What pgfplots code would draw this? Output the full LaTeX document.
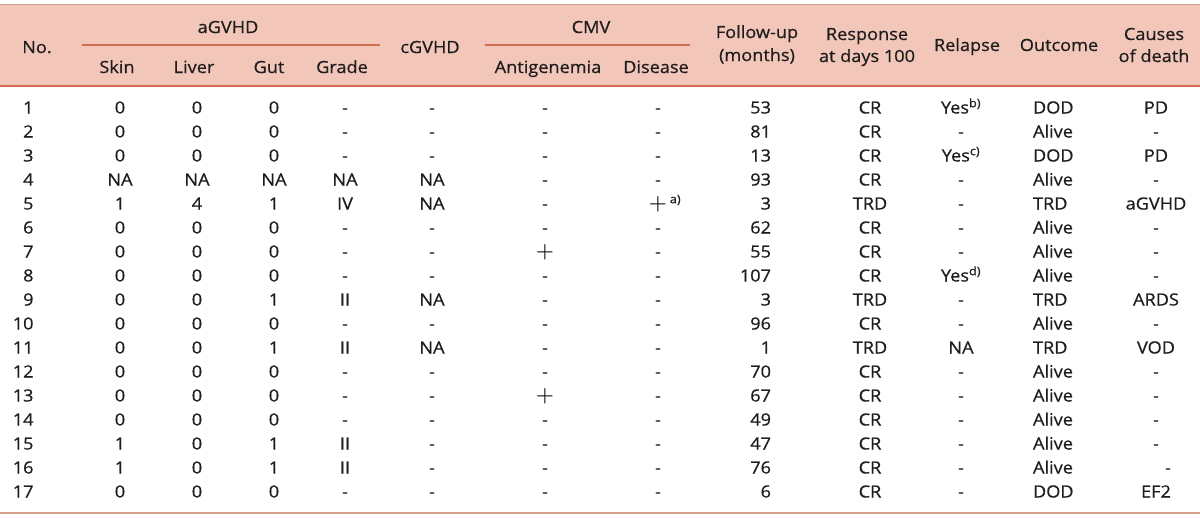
\documentclass[border=0pt]{standalone}
\usepackage{fontspec}
\setmainfont{Open Sans}[FakeStretch=1.08, FakeBold=0.6]
\usepackage{pgfplots}
\usepackage{pgfplotstable}
\pgfplotsset{compat=1.18}
\definecolor{hdr}{RGB}{242,199,185}
\definecolor{rule}{RGB}{210,108,82}
\definecolor{brd}{RGB}{214,160,140}
\definecolor{txt}{RGB}{30,28,28}
\newcommand\fn[1]{\textsuperscript{#1}}
\newcommand\pl{{\fontsize{20}{20}\selectfont$\boldsymbol{+}$}}
\usepackage{amsmath}
\newcommand\tf{\fontsize{16.8}{20}\selectfont}
\pgfplotstableread{
row Skin Liver Gut Grade cG Ant Dis FU Resp Rel Out Cause
1 0 0 0 - - - - 53 CR {Yes\fn{b)}} DOD PD
2 0 0 0 - - - - 81 CR - Alive -
3 0 0 0 - - - - 13 CR {Yes\fn{c)}} DOD PD
4 NA NA NA NA NA - - 93 CR - Alive -
5 1 4 1 IV NA - {\pl\rlap{\,\fn{a)}}} 3 TRD - TRD aGVHD
6 0 0 0 - - - - 62 CR - Alive -
7 0 0 0 - - {\pl} - 55 CR - Alive -
8 0 0 0 - - - - 107 CR {Yes\fn{d)}} Alive -
9 0 0 1 II NA - - 3 TRD - TRD ARDS
10 0 0 0 - - - - 96 CR - Alive -
11 0 0 1 II NA - - 1 TRD NA TRD VOD
12 0 0 0 - - - - 70 CR - Alive -
13 0 0 0 - - {\pl} - 67 CR - Alive -
14 0 0 0 - - - - 49 CR - Alive -
15 1 0 1 II - - - 47 CR - Alive -
16 1 0 1 II - - - 76 CR - Alive -
17 0 0 0 - - - - 6 CR - DOD EF2
}\data
\begin{document}
\begin{tikzpicture}
\useasboundingbox (0,0) rectangle (1200pt,517pt);
\begin{axis}[
  scale only axis, width=1200pt, height=517pt,
  xmin=0, xmax=1200, ymin=0, ymax=517, y dir=reverse,
  hide axis, clip=false,
  every node near coord/.append style={anchor=base, inner sep=0pt, outer sep=0pt, font=\tf, text=txt},
  point meta=explicit symbolic,
]
% header band and rules
\addplot[fill=hdr, draw=none] coordinates {(0,4) (1200,4) (1200,86) (0,86) (0,4)};
\addplot[brd, line width=1pt] coordinates {(0,4) (1200,4)};
\addplot[rule, line width=1.4pt] coordinates {(0,86) (1200,86)};
\addplot[rule, line width=1.1pt] coordinates {(82,45) (380,45)};
\addplot[rule, line width=1.1pt] coordinates {(485,45) (690,45)};
\addplot[brd, line width=1.8pt] coordinates {(0,513) (1200,513)};
% header text
\begin{scope}[every node/.style={anchor=base, inner sep=0pt, font=\tf, text=txt}]
\node at (axis cs:37,53) {No.};
\node at (axis cs:228,33) {aGVHD};
\node at (axis cs:117,73) {Skin};
\node at (axis cs:194,73) {Liver};
\node at (axis cs:269,73) {Gut};
\node at (axis cs:342,73) {Grade};
\node at (axis cs:430,53) {cGVHD};
\node at (axis cs:591,33) {CMV};
\node at (axis cs:548,73) {Antigenemia};
\node at (axis cs:656,73) {Disease};
\node at (axis cs:757,38) {Follow-up};
\node at (axis cs:757,61) {(months)};
\node at (axis cs:867,40) {Response};
\node at (axis cs:867,62) {at days 100};
\node at (axis cs:967,51) {Relapse};
\node at (axis cs:1059,51) {Outcome};
\node at (axis cs:1154,40) {Causes};
\node at (axis cs:1154,62) {of death};
\end{scope}
% body columns
\addplot[draw=none, nodes near coords, every node near coord/.append style={anchor=base east}]
  table[x expr=33.5, y expr={113.5+24*(\thisrow{row}-1)}, meta=row] {\data};
\addplot[draw=none, nodes near coords] table[x expr=120, y expr={113.5+24*(\thisrow{row}-1)}, meta=Skin] {\data};
\addplot[draw=none, nodes near coords] table[x expr=197, y expr={113.5+24*(\thisrow{row}-1)}, meta=Liver] {\data};
\addplot[draw=none, nodes near coords] table[x expr=274, y expr={113.5+24*(\thisrow{row}-1)}, meta=Gut] {\data};
\addplot[draw=none, nodes near coords] table[x expr=345, y expr={113.5+24*(\thisrow{row}-1)}, meta=Grade] {\data};
\addplot[draw=none, nodes near coords] table[x expr=432, y expr={113.5+24*(\thisrow{row}-1)}, meta=cG] {\data};
\addplot[draw=none, nodes near coords] table[x expr=545, y expr={113.5+24*(\thisrow{row}-1)}, meta=Ant] {\data};
\addplot[draw=none, nodes near coords] table[x expr=658, y expr={113.5+24*(\thisrow{row}-1)}, meta=Dis] {\data};
\addplot[draw=none, nodes near coords, every node near coord/.append style={anchor=base east}]
  table[x expr=771, y expr={113.5+24*(\thisrow{row}-1)}, meta=FU] {\data};
\addplot[draw=none, nodes near coords] table[x expr=870, y expr={113.5+24*(\thisrow{row}-1)}, meta=Resp] {\data};
\addplot[draw=none, nodes near coords] table[x expr=961, y expr={113.5+24*(\thisrow{row}-1)}, meta=Rel] {\data};
\addplot[draw=none, nodes near coords, every node near coord/.append style={anchor=base west}]
  table[x expr=1033, y expr={113.5+24*(\thisrow{row}-1)}, meta=Out] {\data};
\addplot[draw=none, nodes near coords] table[x expr={\thisrow{row}==16 ? 1168 : 1156}, y expr={113.5+24*(\thisrow{row}-1)}, meta=Cause] {\data};
\end{axis}
\end{tikzpicture}
\end{document}
